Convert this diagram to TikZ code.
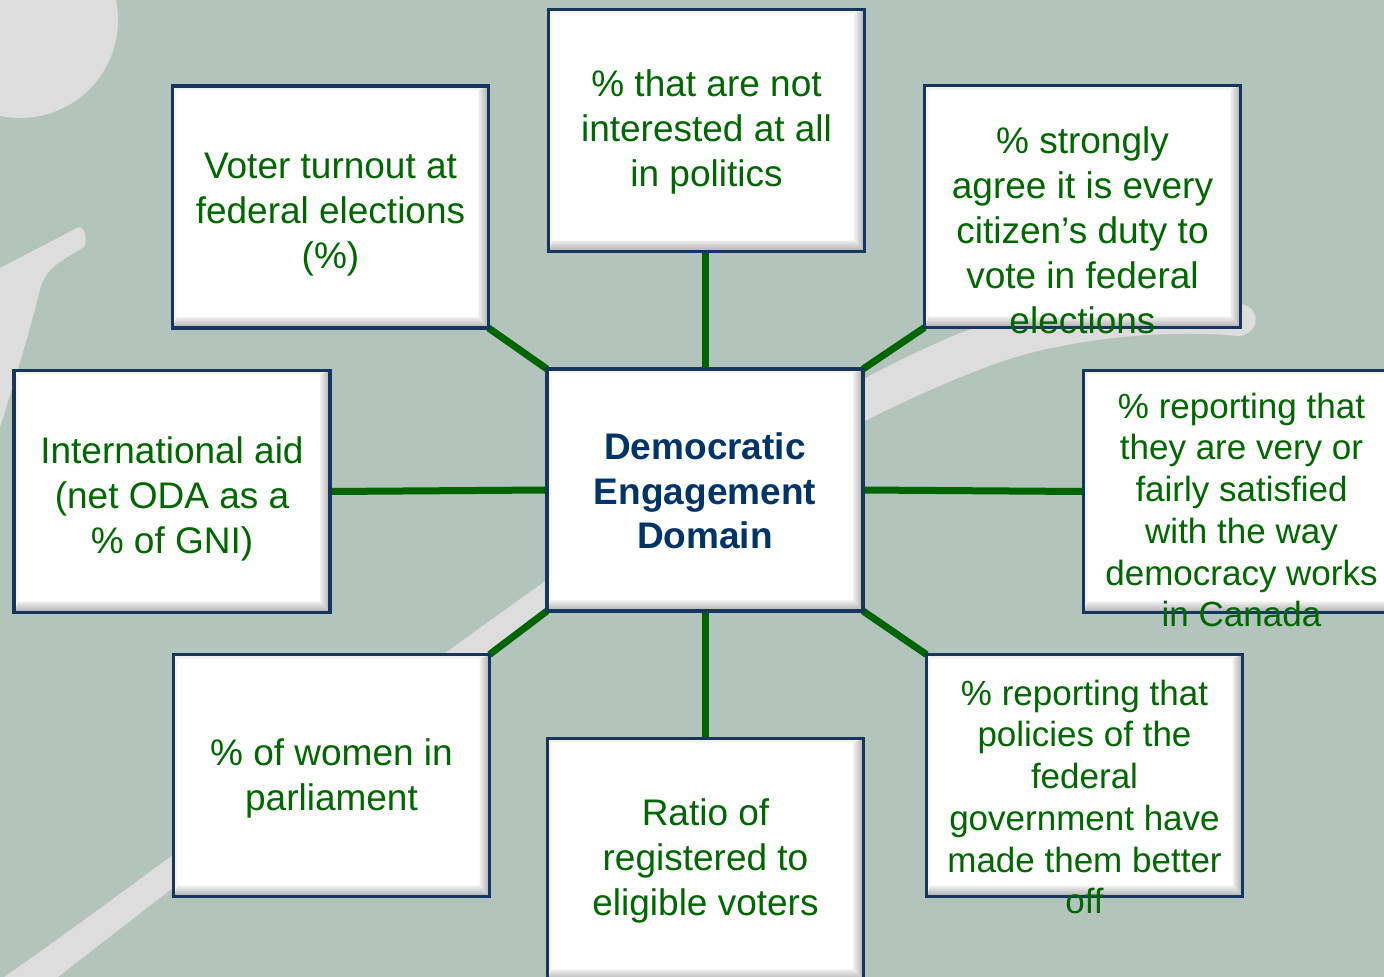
\documentclass[tikz,border=0pt]{standalone}
\usepackage{fontspec}
\setmainfont{Liberation Sans}
\definecolor{bgc}{RGB}{178,196,188}
\definecolor{lightc}{RGB}{221,221,221}
\definecolor{navyb}{RGB}{23,54,93}
\definecolor{tgreen}{RGB}{0,102,0}
\definecolor{lgreen}{RGB}{0,100,0}
\definecolor{tnavy}{RGB}{0,51,102}
\pgfdeclarelayer{back}
\pgfsetlayers{back,main}
\tikzset{
  box/.style={draw=navyb, line width=3.5pt, fill=white,
    minimum width=316pt, minimum height=242pt, inner sep=0pt, outer sep=0pt,
    path picture={
      \fill[gray!10] (path picture bounding box.north west) -- (path picture bounding box.north east)
        -- ([shift={(-10pt,-4pt)}]path picture bounding box.north east)
        -- ([shift={(4pt,-4pt)}]path picture bounding box.north west) -- cycle;
      \fill[gray!7] (path picture bounding box.north west) -- ([shift={(4pt,-4pt)}]path picture bounding box.north west)
        -- ([shift={(4pt,11pt)}]path picture bounding box.south west) -- (path picture bounding box.south west) -- cycle;
      \shade[top color=gray!12, bottom color=gray!65] (path picture bounding box.south west) -- (path picture bounding box.south east)
        -- ([shift={(-10pt,11pt)}]path picture bounding box.south east)
        -- ([shift={(4pt,11pt)}]path picture bounding box.south west) -- cycle;
      \shade[left color=gray!12, right color=gray!65] (path picture bounding box.south east) -- (path picture bounding box.north east)
        -- ([shift={(-10pt,-4pt)}]path picture bounding box.north east)
        -- ([shift={(-10pt,11pt)}]path picture bounding box.south east) -- cycle;
    }},
  lbl/.style={text=tgreen, align=center, inner sep=0pt, font=\fontsize{37pt}{45pt}\selectfont},
  lblsm/.style={lbl, font=\fontsize{35pt}{41.7pt}\selectfont},
  lblc/.style={lbl, text=tnavy, font=\fontsize{37pt}{44.5pt}\selectfont\bfseries},
  conn/.style={draw=lgreen, line width=7pt}
}
\begin{document}
\begin{tikzpicture}[x=1pt,y=-1pt]
\useasboundingbox (0,0) rectangle (1384,977);
\begin{pgfonlayer}{back}
  \clip (0,0) rectangle (1384,977);
  \fill[bgc] (0,0) rectangle (1384,977);
  \fill[lightc] (20,20) circle[radius=98];
  \fill[lightc] (0,268) -- (77,228) .. controls (85,224) and (88,240) .. (84,247)
    .. controls (60,262) and (45,268) .. (40,290)
    .. controls (30,330) and (12,390) .. (0,427) -- cycle;
  \fill[lightc] (0,980) .. controls (300,770) and (690,445) .. (960,333)
    .. controls (1080,290) and (1200,290) .. (1245,305)
    .. controls (1262,312) and (1258,335) .. (1238,336)
    .. controls (1180,330) and (1080,335) .. (1000,362)
    .. controls (700,470) and (300,790) .. (54,980) -- cycle;
\end{pgfonlayer}

\node[box] (top) at (706.5,130.5) {};
\node[box] (voter) at (330.5,207) {};
\node[box] (strong) at (1082.5,206.5) {};
\node[box] (intl) at (172,491.5) {};
\node[box] (c) at (705,490) {};
\node[box] (right) at (1241.5,491.5) {};
\node[box] (women) at (331.5,775.5) {};
\node[box] (ratio) at (705.5,859.5) {};
\node[box] (pol) at (1084.5,775.5) {};

\begin{pgfonlayer}{back}
  \draw[conn] (c.north) -- (c.north |- top.south);
  \draw[conn] (c.south) -- (c.south |- ratio.north);
  \draw[conn] (c.west) -- (intl.east);
  \draw[conn] (c.east) -- (right.west);
  \draw[conn] (c.north west) -- (voter.south east);
  \draw[conn] (c.north east) -- (strong.south west);
  \draw[conn] (c.south west) -- (women.north east);
  \draw[conn] (c.south east) -- (pol.north west);
\end{pgfonlayer}

\node[lbl] (ttop) at (706.5,132) {\% that are not\\interested at all\\in politics};
\node[lbl] (tvoter) at (330.5,215) {Voter turnout at\\federal elections\\(\%)};
\node[lbl] (tstrong) at (1082.5,230) {\% strongly\\agree it is every\\citizen’s duty to\\vote in federal\\elections};
\node[lbl] (tintl) at (172,499) {International aid\\(net ODA as a\\\% of GNI)};
\node[lblc] (tc) at (705,491) {Democratic\\Engagement\\Domain};
\node[lblsm] (tright) at (1241.5,510) {\% reporting that\\they are very or\\fairly satisfied\\with the way\\democracy works\\in Canada};
\node[lbl] (twomen) at (331.5,778) {\% of women in\\parliament};
\node[lbl] (tratio) at (705.5,861) {Ratio of\\registered to\\eligible voters};
\node[lblsm] (tpol) at (1084.5,797) {\% reporting that\\policies of the\\federal\\government have\\made them better\\off};
\end{tikzpicture}
\end{document}
